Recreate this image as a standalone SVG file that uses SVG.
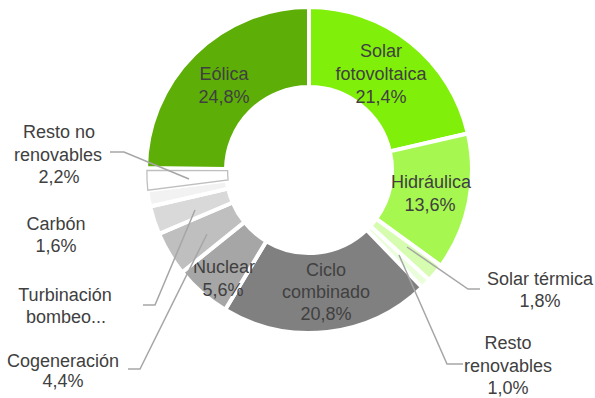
<svg xmlns="http://www.w3.org/2000/svg" width="595" height="398" viewBox="0 0 595 398">
<style>
.s{stroke:#FFFFFF;stroke-width:4;stroke-linejoin:miter}
.t{font-family:"Liberation Sans",Arial,sans-serif;font-size:18px;fill:#404040;text-anchor:middle}
.l{fill:none;stroke:#A6A6A6;stroke-width:1.5}
</style>
<rect width="595" height="398" fill="#FFFFFF"/>
<g id="solar-fotovoltaica">
<path class="s" fill="#80F00A" d="M309,7 A163,163 0 0 1 467.85,133.46 L389.89,151.39 A83,83 0 0 0 309,87 Z"/>
<text class="t" x="381" y="57">Solar</text>
<text class="t" x="381" y="80">fotovoltaica</text>
<text class="t" x="381" y="103">21,4%</text>
</g>
<g id="hidraulica">
<path class="s" fill="#A6F850" d="M467.85,133.46 A163,163 0 0 1 440.87,265.81 L376.15,218.79 A83,83 0 0 0 389.89,151.39 Z"/>
<text class="t" x="431" y="188">Hidráulica</text>
<text class="t" x="430" y="211">13,6%</text>
</g>
<g id="solar-termica">
<path class="s" fill="#D5FCAF" d="M440.87,265.81 A163,163 0 0 1 429.23,280.07 L370.22,226.05 A83,83 0 0 0 376.15,218.79 Z"/>
<text class="t" x="540" y="285">Solar térmica</text>
<text class="t" x="540" y="307">1,8%</text>
</g>
<g id="resto-renovables">
<path class="s" fill="#EBFEDC" d="M429.23,280.07 A163,163 0 0 1 422.07,287.4 L366.58,229.78 A83,83 0 0 0 370.22,226.05 Z"/>
<text class="t" x="508" y="349">Resto</text>
<text class="t" x="508" y="372">renovables</text>
<text class="t" x="508" y="394">1,0%</text>
</g>
<g id="ciclo-combinado">
<path class="s" fill="#808080" d="M422.07,287.4 A163,163 0 0 1 225.15,309.78 L266.3,241.17 A83,83 0 0 0 366.58,229.78 Z"/>
<text class="t" x="326" y="276">Ciclo</text>
<text class="t" x="326" y="298">combinado</text>
<text class="t" x="326" y="320">20,8%</text>
</g>
<g id="nuclear">
<path class="s" fill="#A6A6A6" d="M225.15,309.78 A163,163 0 0 1 182.11,272.31 L244.39,222.1 A83,83 0 0 0 266.3,241.17 Z"/>
<text class="t" x="224" y="273">Nuclear</text>
<text class="t" x="223" y="296">5,6%</text>
</g>
<g id="cogeneracion">
<path class="s" fill="#BFBFBF" d="M182.11,272.31 A163,163 0 0 1 159,233.79 L232.62,202.48 A83,83 0 0 0 244.39,222.1 Z"/>
<text class="t" x="63" y="367">Cogeneración</text>
<text class="t" x="63" y="387">4,4%</text>
</g>
<g id="turbinacion-bombeo">
<path class="s" fill="#D9D9D9" d="M159,233.79 A163,163 0 0 1 150.15,206.54 L228.11,188.61 A83,83 0 0 0 232.62,202.48 Z"/>
<text class="t" x="65" y="301">Turbinación</text>
<text class="t" x="66" y="323">bombeo...</text>
</g>
<g id="carbon">
<path class="s" fill="#F2F2F2" d="M150.15,206.54 A163,163 0 0 1 147.29,190.43 L226.65,180.4 A83,83 0 0 0 228.11,188.61 Z"/>
<text class="t" x="56" y="230">Carbón</text>
<text class="t" x="56" y="252">1,6%</text>
</g>
<g id="eolica">
<path class="s" fill="#5DAF07" d="M146.01,167.95 A163,163 0 0 1 309,7 L309,87 A83,83 0 0 0 226.01,168.96 Z"/>
<text class="t" x="224" y="80">Eólica</text>
<text class="t" x="224" y="103">24,8%</text>
</g>
<g id="resto-no-renovables">
<path fill="#FFFFFF" stroke="#BFBFBF" stroke-width="1.3" d="M147.8,190.2 A161.5,161.5 0 0 1 146.9,170.5 L227.6,170.6 A84.5,84.5 0 0 0 228.1,180 Z"/>
<text class="t" x="59" y="138">Resto no</text>
<text class="t" x="58" y="161">renovables</text>
<text class="t" x="59" y="183">2,2%</text>
</g>
<g id="connectors">
<path class="l" d="M110,152 L124,152 L189,179"/>
<path class="l" d="M143,305 L155,305 L195,210"/>
<path class="l" d="M128,369 L140,369 L207,234"/>
<path class="l" d="M480,289 L468,289 L407,247"/>
<path class="l" d="M463,364 L447,364 L399,255"/>
</g>
</svg>
